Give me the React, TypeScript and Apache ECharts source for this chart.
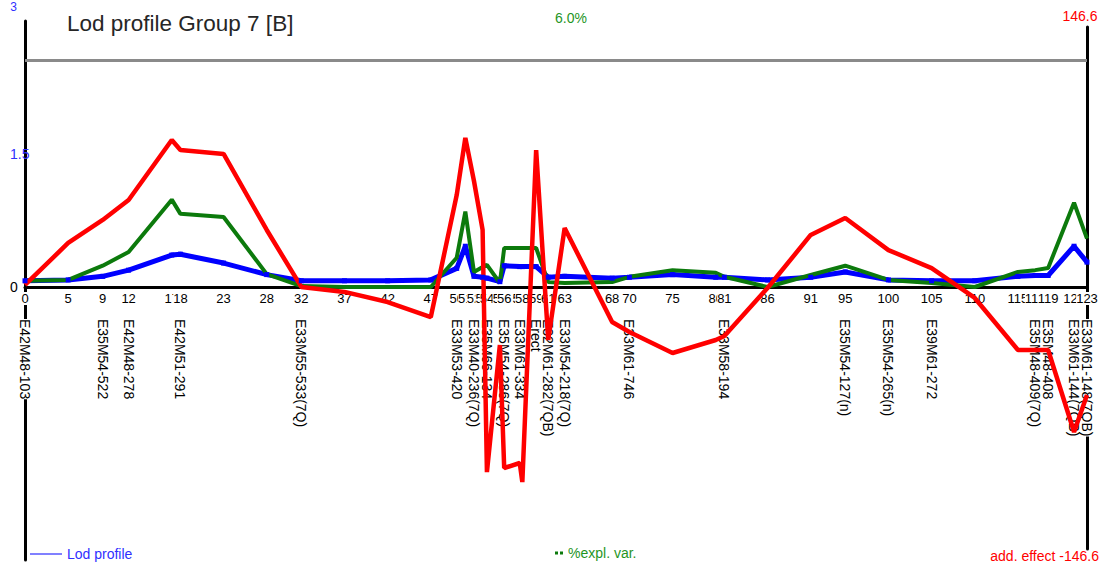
import { useEffect, useRef } from 'react';
import * as echarts from 'echarts';

// Marker positions along the linkage group (cM)
const markerCM = [
  0, 5, 9, 12, 17, 18, 23, 28, 32, 37, 42, 47, 50, 51, 52, 53, 53.5, 55, 55.5, 57.3,
  57.6, 59.2, 60.6, 62.5, 68, 70, 75, 80, 81, 86, 91, 95, 100, 105, 110, 115, 117,
  118.5, 121.5, 123,
];

// LOD score at each marker
const lodProfile = [
  0.07, 0.08, 0.12, 0.19, 0.36, 0.37, 0.27, 0.14, 0.07, 0.07, 0.07, 0.08, 0.21, 0.46,
  0.12, 0.11, 0.1, 0.06, 0.24, 0.23, 0.23, 0.23, 0.11, 0.12, 0.1, 0.11, 0.14, 0.11,
  0.11, 0.08, 0.11, 0.17, 0.08, 0.07, 0.07, 0.12, 0.13, 0.13, 0.46, 0.28,
];

// Percentage of explained variance at each marker
const explVar = [
  0.14, 0.16, 0.48, 0.79, 1.97, 1.65, 1.58, 0.29, 0.02, 0, 0, 0, 0.66, 1.7, 0.34, 0.45,
  0.5, 0.09, 0.88, 0.88, 0.88, 0.88, 0.11, 0.09, 0.11, 0.23, 0.38, 0.32, 0.23, 0, 0.27,
  0.48, 0.16, 0.09, 0, 0.34, 0.38, 0.43, 1.9, 1.09,
];

// Additive effect at each marker
const addEffect = [
  1.7, 25.3, 38.2, 49.4, 83.1, 77.5, 75.3, 32.6, 0.6, -2.2, -7.9, -16.3, 52.2, 84.3,
  60.1, 32.6, -103.4, -32, -101.1, -98.3, -109, 77.5, -29.2, 33.7, -19.1, -24.7, -36.5,
  -29.2, -27, 0, 29.8, 39.3, 21.3, 11.2, -5.6, -34.8, -34.8, -34.8, -80.9, -60.1,
];

// Markers whose names are printed under the axis
const namedMarkerCM = [
  0, 9, 12, 18, 32, 50, 52, 53.5, 55.5, 57.3, 59.2, 60.6, 62.5, 70, 81, 95, 100, 105,
  117, 118.5, 121.5, 123,
];
const namedMarkerLabels = [
  'E42M48-103', 'E35M54-522', 'E42M48-278', 'E42M51-291', 'E33M55-533(7Q)',
  'E33M53-420', 'E33M40-236(7Q)', 'E35M66-134', 'E35M54-286(7Q)', 'E33M61-334',
  'Erect', 'E32M61-282(7QB)', 'E33M54-218(7Q)', 'E33M61-746', 'E33M58-194',
  'E35M54-127(n)', 'E35M54-265(n)', 'E39M61-272', 'E35M48-409(7Q)', 'E35M48-408',
  'E33M61-144(7QB)', 'E33M61-148(7QB)',
];

const lodTicks = [0, 1.5];
const lodMax = 3;
const varMax = 6;
const effectMax = 146.6;
const lodThreshold = 2.56;
const mapLength = 123;

const FONT = '"Liberation Sans", Arial, Helvetica, sans-serif';
const BLUE = '#0000ff';
const GREEN = '#0c7a0c';
const RED = '#ff0000';

export default function App() {
  const ref = useRef<HTMLDivElement>(null);

  useEffect(() => {
    if (!ref.current) return;
    const chart = echarts.init(ref.current, null, { renderer: 'svg' });
    const pairs = (ys: number[]) => markerCM.map((x, i) => [x, ys[i]]);
    const nameAt = (v: number) => {
      const i = namedMarkerCM.findIndex((c) => Math.abs(c - v) < 1e-6);
      return i >= 0 ? namedMarkerLabels[i] : '';
    };
    const gridBase = { left: 25, right: 17, containLabel: false, outerBoundsMode: 'none' };
    const hidden = { show: false };

    // The last marker sits on its own axis so that ECharts' min/max label
    // overlap handling does not drop its crowded neighbour.
    const cmTickAxis = (values: number[]) => ({
      gridIndex: 0,
      type: 'value',
      position: 'bottom',
      min: 0,
      max: mapLength,
      z: 1,
      axisLine: { show: false, onZero: false },
      axisTick: hidden,
      splitLine: hidden,
      axisLabel: {
        customValues: values,
        formatter: (v: number) => String(Math.round(v)),
        showMinLabel: true,
        showMaxLabel: true,
        hideOverlap: false,
        fontSize: 13,
        color: '#000',
        margin: 5,
        backgroundColor: '#fff',
      },
    });
    const markerNameAxis = (values: number[]) => ({
      gridIndex: 0,
      type: 'value',
      position: 'bottom',
      min: 0,
      max: mapLength,
      z: 1,
      axisLine: { show: false, onZero: false },
      axisTick: hidden,
      splitLine: hidden,
      axisLabel: {
        customValues: values,
        formatter: nameAt,
        showMinLabel: true,
        showMaxLabel: true,
        hideOverlap: false,
        rotate: -90,
        margin: 32,
        fontSize: 14,
        color: '#000',
        backgroundColor: '#fff',
      },
    });

    const baseAxis = cmTickAxis(markerCM.slice(0, -1));
    baseAxis.axisLine = { show: true, onZero: false, lineStyle: { color: '#000', width: 3 } } as any;

    chart.setOption({
      animation: false,
      backgroundColor: '#ffffff',
      textStyle: { fontFamily: FONT },
      title: [
        {
          text: 'Lod profile Group 7 [B]',
          left: 62,
          top: 7,
          textStyle: { fontSize: 22.5, fontWeight: 'normal', color: '#262626', fontFamily: FONT },
        },
        {
          text: `${varMax.toFixed(1)}%`,
          left: 550,
          top: 6,
          textStyle: { fontSize: 14, fontWeight: 'normal', color: '#1f951f', fontFamily: FONT },
        },
      ],
      legend: [
        {
          data: ['Lod profile'],
          left: 30,
          top: 547,
          padding: 0,
          selectedMode: false,
          icon: 'rect',
          itemWidth: 32,
          itemHeight: 1,
          textStyle: { color: '#2f2fff', fontSize: 14, fontFamily: FONT },
        },
        {
          data: ['%expl. var.'],
          left: 555,
          top: 546,
          padding: 0,
          selectedMode: false,
          icon: 'path://M0,0h3v3h-3z M5,0h3v3h-3z',
          itemWidth: 8,
          itemHeight: 3,
          textStyle: { color: '#1f951f', fontSize: 14, fontFamily: FONT },
        },
      ],
      grid: [
        { ...gridBase, top: 21, height: 266 },
        { ...gridBase, top: 27, height: 522 },
        { ...gridBase, top: 21, height: 539 },
      ],
      xAxis: [
        baseAxis,
        markerNameAxis(namedMarkerCM.slice(0, -1)),
        { gridIndex: 1, type: 'value', min: 0, max: mapLength, show: false },
        { gridIndex: 2, type: 'value', min: 0, max: mapLength, show: false },
        cmTickAxis(markerCM.slice(-1)),
        markerNameAxis(namedMarkerCM.slice(-1)),
      ],
      yAxis: [
        {
          gridIndex: 0,
          type: 'value',
          min: 0,
          max: lodMax,
          name: String(lodMax),
          nameLocation: 'end',
          nameGap: 8,
          nameTextStyle: { color: '#2f2fff', fontSize: 12, align: 'right', padding: [0, 8, 0, 0] },
          axisLine: { show: false, onZero: false },
          axisTick: hidden,
          splitLine: hidden,
          axisLabel: {
            customValues: lodTicks,
            showMinLabel: true,
            formatter: (v: number) => (v === 0 ? '{k|0}' : String(v)),
            align: 'left',
            margin: 15,
            fontSize: 14,
            color: '#2f2fff',
            rich: { k: { color: '#000', fontSize: 14 } },
          },
        },
        { gridIndex: 0, type: 'value', min: 0, max: varMax, show: false },
        {
          gridIndex: 1,
          type: 'value',
          position: 'right',
          min: -effectMax,
          max: effectMax,
          name: String(effectMax),
          nameLocation: 'end',
          nameGap: 4,
          nameTextStyle: { color: RED, fontSize: 14, padding: [0, 14, 0, 0] },
          axisLine: { show: true, onZero: false, lineStyle: { color: '#000', width: 3 } },
          axisTick: hidden,
          splitLine: hidden,
          axisLabel: {
            customValues: [-effectMax],
            showMinLabel: true,
            formatter: (v: number) => `add. effect ${v}`,
            align: 'right',
            verticalAlign: 'top',
            margin: 12,
            fontSize: 14,
            color: RED,
          },
        },
        {
          gridIndex: 2,
          type: 'value',
          position: 'left',
          min: 0,
          max: 1,
          axisLine: { show: true, onZero: false, lineStyle: { color: '#000', width: 3 } },
          axisTick: hidden,
          splitLine: hidden,
          axisLabel: hidden,
        },
      ],
      series: [
        {
          name: 'Lod profile',
          type: 'line',
          xAxisIndex: 0,
          yAxisIndex: 0,
          data: pairs(lodProfile),
          symbol: 'rect',
          symbolSize: 5,
          showSymbol: true,
          itemStyle: { color: BLUE },
          lineStyle: { color: BLUE, width: 5 },
          markLine: {
            silent: true,
            symbol: 'none',
            label: { show: false },
            lineStyle: { color: '#8a8a8a', width: 3, type: 'solid' },
            data: [{ yAxis: lodThreshold }],
          },
        },
        {
          name: '%expl. var.',
          type: 'line',
          xAxisIndex: 0,
          yAxisIndex: 1,
          data: pairs(explVar),
          symbol: 'none',
          itemStyle: { color: GREEN },
          lineStyle: { color: GREEN, width: 4 },
        },
        {
          name: 'add. effect',
          type: 'line',
          xAxisIndex: 2,
          yAxisIndex: 2,
          data: pairs(addEffect),
          symbol: 'none',
          itemStyle: { color: RED },
          lineStyle: { color: RED, width: 4.5 },
        },
      ],
    });

    return () => chart.dispose();
  }, []);

  return (
    <div
      ref={ref}
      style={{ position: 'absolute', left: 0, top: 0, width: 1104, height: 569, background: '#fff' }}
    />
  );
}
